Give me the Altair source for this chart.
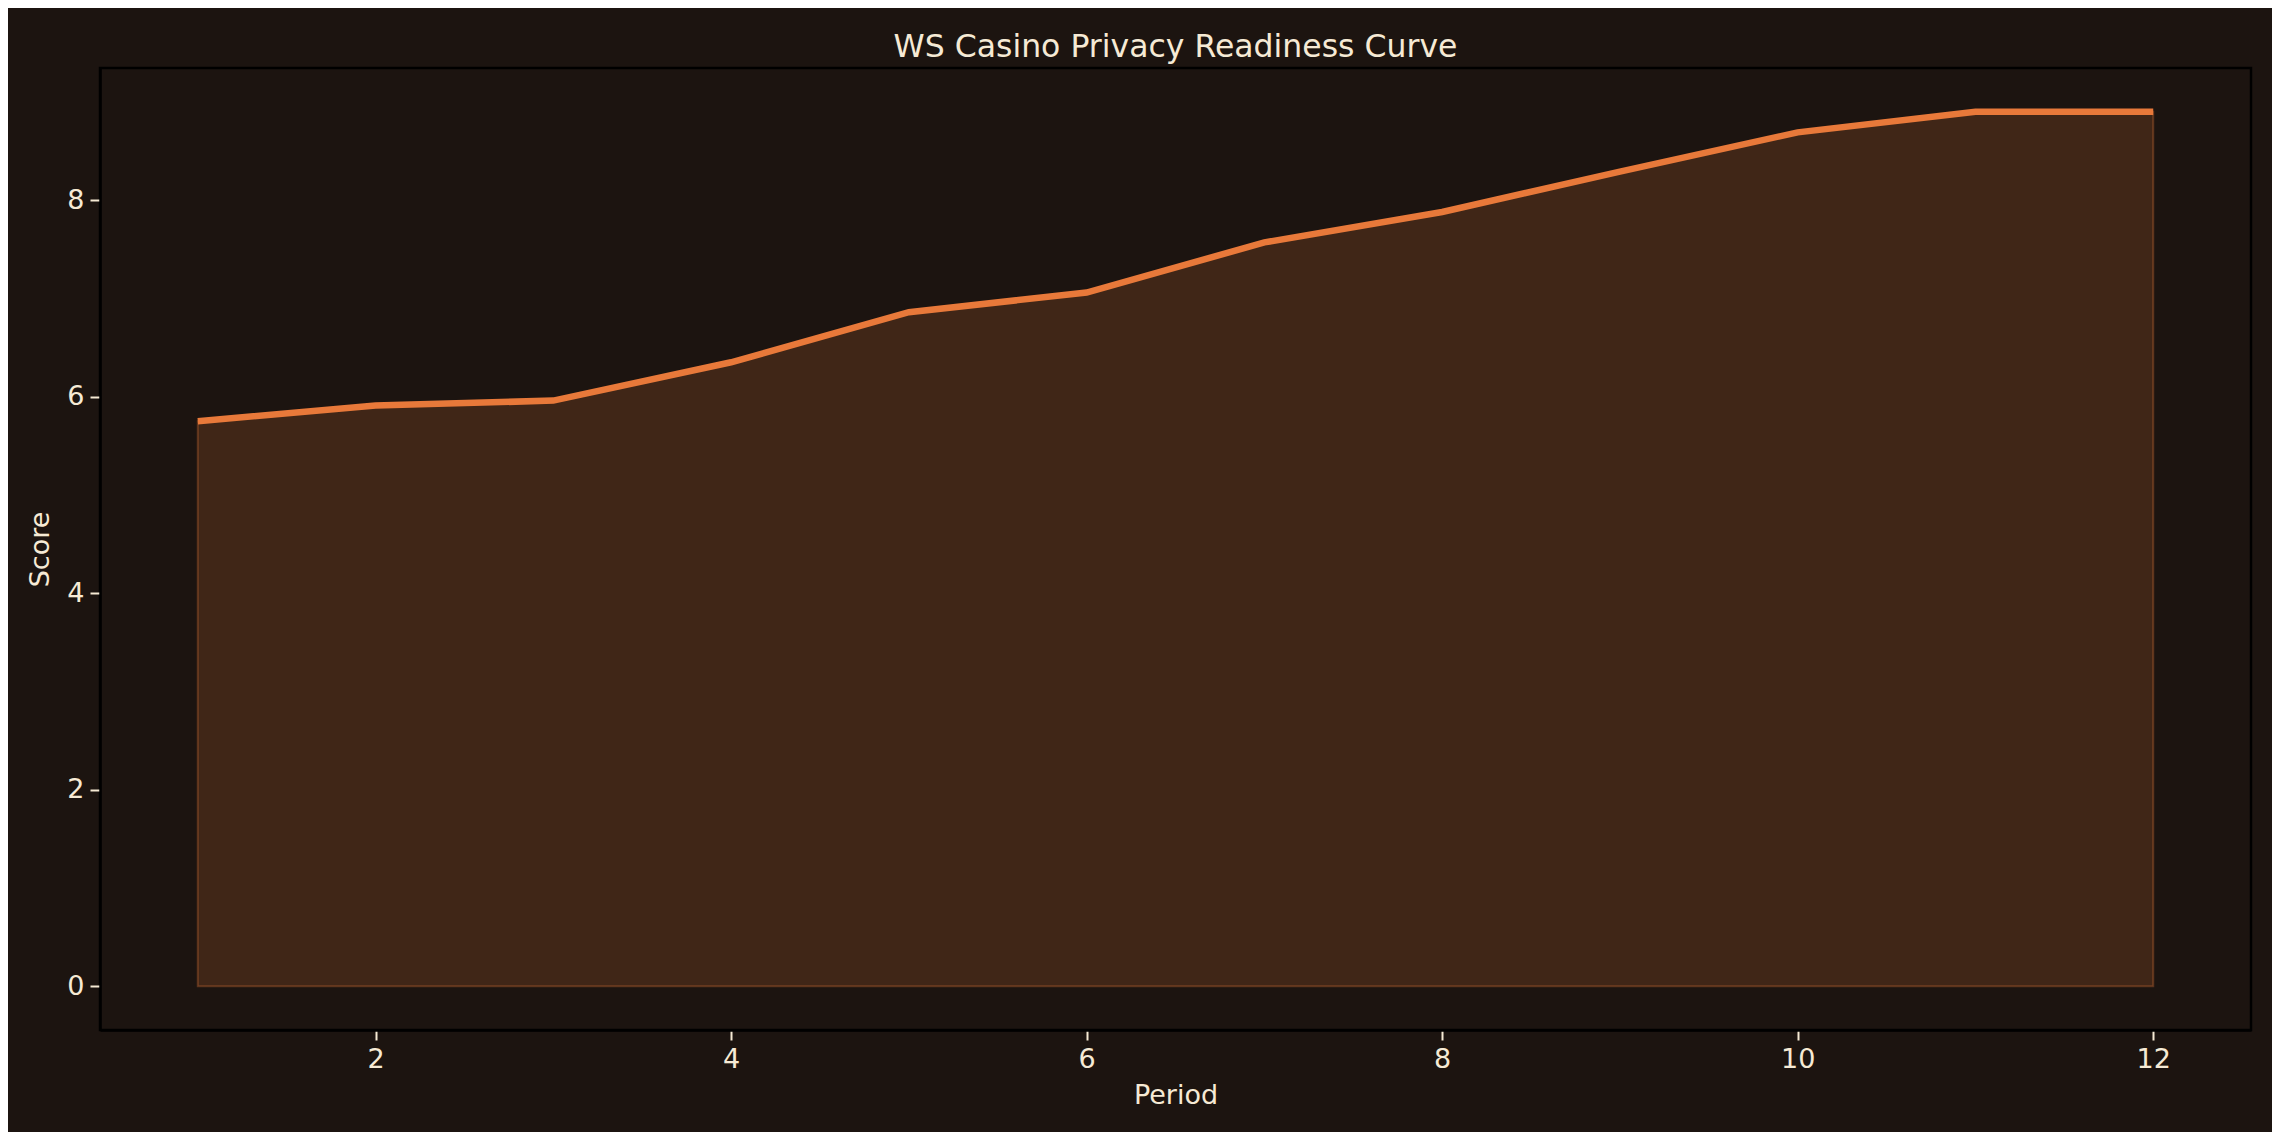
import altair as alt
import pandas as pd

periods = [1, 2, 3, 4, 5, 6, 7, 8, 9, 10, 11, 12]
scores = [5.75, 5.91, 5.96, 6.35, 6.86, 7.06, 7.57, 7.88, 8.29, 8.69, 8.90, 8.90]
x_ticks = [2, 4, 6, 8, 10, 12]
y_ticks = [0, 2, 4, 6, 8]

df = pd.DataFrame({"Period": periods, "Score": scores})

BG = "#1c1410"
ORANGE = "#e8793a"
TEXT = "#f6ead5"
FONT = "DejaVu Sans"

x_enc = alt.X(
    "Period:Q",
    scale=alt.Scale(domain=[0.45, 12.55], nice=False, zero=False),
    axis=alt.Axis(values=x_ticks, title="Period", grid=False),
)
y_enc = alt.Y(
    "Score:Q",
    scale=alt.Scale(domain=[-0.445, 9.345], nice=False, zero=False),
    axis=alt.Axis(values=y_ticks, title="Score", grid=False),
)

area = alt.Chart(df).mark_area(
    color=ORANGE, fillOpacity=0.18, stroke=ORANGE, strokeOpacity=0.3, strokeWidth=2
).encode(x=x_enc, y=y_enc, y2=alt.datum(0))

line = alt.Chart(df).mark_line(color=ORANGE, strokeWidth=6.5).encode(x=x_enc, y=y_enc)

chart = (
    alt.layer(area, line)
    .properties(
        width=2151,
        height=962,
        autosize=alt.AutoSizeParams(type="none"),
        padding={"left": 92, "top": 60, "right": 21, "bottom": 102},
        background=BG,
        title=alt.TitleParams(
            "WS Casino Privacy Readiness Curve",
            font=FONT,
            fontSize=31.5,
            fontWeight="normal",
            color=TEXT,
            anchor="middle",
            offset=5,
        ),
    )
    .configure_view(fill=BG, stroke="#000000", strokeWidth=2.5)
    .configure_axis(
        domainColor="#000000",
        domainWidth=2.5,
        tickColor=TEXT,
        tickWidth=2,
        tickSize=10,
        labelColor=TEXT,
        labelFont=FONT,
        labelFontSize=27,
        labelPadding=6,
        titleColor=TEXT,
        titleFont=FONT,
        titleFontSize=27,
        titleFontWeight="normal",
    )
    .configure_axisX(titlePadding=10)
    .configure_axisY(titlePadding=12)
)

chart.save("out.html", embed_options={"renderer": "svg", "actions": False})
